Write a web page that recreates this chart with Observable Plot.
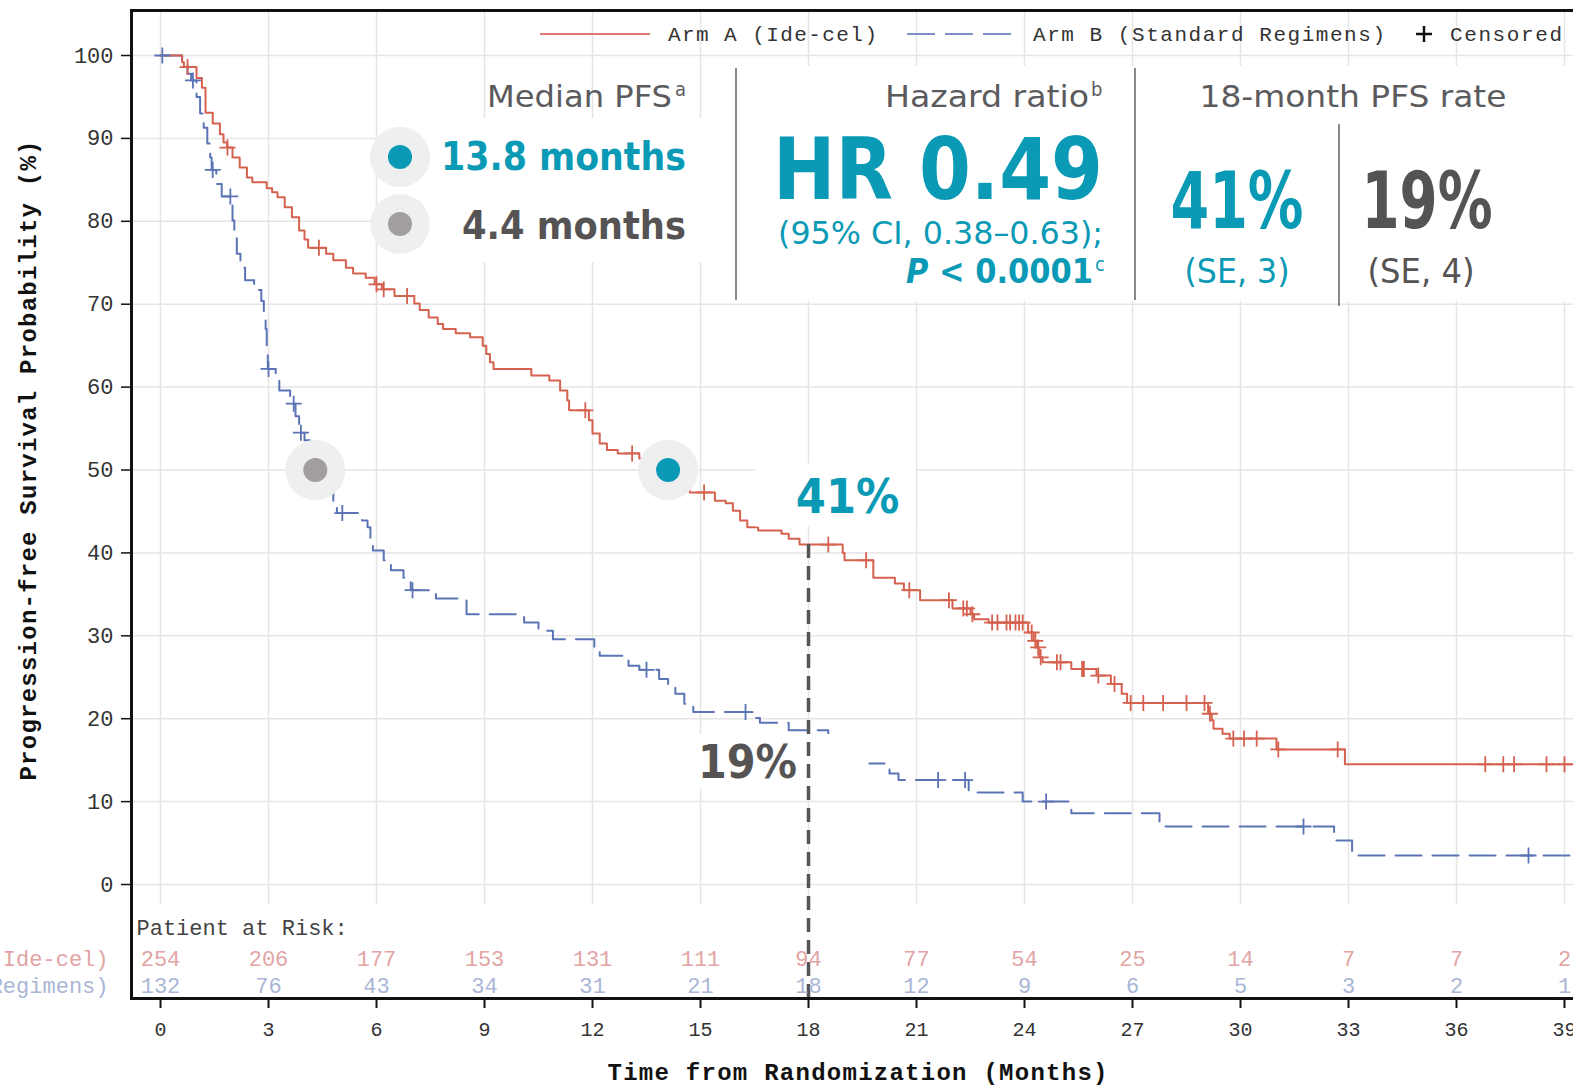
<!DOCTYPE html>
<html><head><meta charset="utf-8">
<script src="https://cdn.jsdelivr.net/npm/d3@7"></script>
<script src="https://cdn.jsdelivr.net/npm/@observablehq/plot@0.6"></script>
<style>
html,body{margin:0;padding:0;background:#fff;overflow:hidden;}
#wrap{position:relative;width:1600px;height:1087px;overflow:hidden;}
#wrap > svg{position:absolute;left:0;top:0;}
#overlay{pointer-events:none;}
</style></head><body><div id="wrap"></div>
<script>
// ---------------- data ----------------
const riskMonths = [0,3,6,9,12,15,18,21,24,27,30,33,36,39];
const riskArmA = [254,206,177,153,131,111,94,77,54,25,14,7,7,2];
const riskArmB = [132,76,43,34,31,21,18,12,9,6,5,3,2,1];

const armATime = [0,0.6,0.65,1.0,1.15,1.25,1.45,1.65,1.75,1.85,2.0,2.2,2.4,2.55,2.95,3.1,3.25,3.45,3.65,3.85,4.0,4.1,4.6,4.8,5.15,5.35,5.7,5.95,6.15,6.5,7.05,7.2,7.45,7.7,7.85,8.2,8.6,8.95,9.05,9.15,9.25,10.3,10.8,11.1,11.3,11.35,11.9,12.0,12.2,12.4,12.7,13.3,13.6,13.8,14.1,14.4,14.7,15.4,15.7,15.9,16.1,16.3,16.6,17.25,17.45,17.75,18.95,19.0,19.8,20.4,20.65,21.1,22.0,22.5,22.6,23.0,24.1,24.25,24.35,24.4,24.5,25.3,26.0,26.4,26.7,26.85,29.1,29.2,29.25,29.5,29.7,31.0,32.9,40];
const armASurv = [100,99.2,98.6,97.3,96.1,93.1,91.8,90.5,89.5,88.9,87.7,86.5,85.3,84.7,84.0,83.5,82.9,81.7,80.5,78.9,77.8,76.8,76.1,75.3,74.4,73.7,73.2,72.4,71.8,71.0,70.1,69.3,68.4,67.6,67.0,66.5,66.0,65.0,64.0,63.0,62.2,61.4,60.8,59.6,58.4,57.2,56.0,54.4,53.2,52.4,52.0,51.4,50.6,49.8,49.0,48.2,47.3,46.3,46.0,45.1,43.9,43.1,42.7,42.3,41.7,41.0,40.0,39.1,37.0,36.3,35.5,34.3,33.3,32.6,32.0,31.6,30.4,29.4,28.6,27.4,26.8,26.0,25.2,24.2,23.0,21.9,20.6,19.8,18.8,18.2,17.6,16.3,14.5,14.5];
const armACensorTime = [0.75,1.86,4.4,6.0,6.2,6.85,11.8,13.1,15.1,18.55,19.6,20.8,21.9,22.3,22.4,22.55,23.1,23.25,23.5,23.6,23.75,23.85,23.95,24.2,24.3,24.38,24.45,24.9,25.0,25.6,25.65,26.05,26.5,26.95,27.3,27.85,28.5,29.0,29.15,29.8,30.1,30.45,31.05,32.7,36.8,37.3,37.6,38.5,39.0];

const armBTime = [0,0.6,0.75,0.85,1.0,1.1,1.2,1.3,1.38,1.42,1.55,1.7,2.0,2.05,2.12,2.22,2.35,2.6,2.8,2.87,2.92,2.95,2.98,3.2,3.3,3.6,3.75,3.85,4.0,4.15,4.3,4.45,4.6,4.8,4.9,5.6,5.75,5.83,5.9,6.2,6.4,6.75,6.95,7.65,8.5,10.1,10.5,10.9,12.05,12.2,13.0,13.3,13.85,14.1,14.3,14.55,14.8,16.45,16.65,17.45,18.55,19.0,19.55,20.25,20.5,22.45,23.95,25.3,27.75,32.6,33.1,40];
const armBSurv = [100,99.0,97.8,97.0,95.0,93.0,91.3,89.4,87.7,86.2,84.5,83.0,80.1,78.5,76.1,74.4,72.9,71.7,70.4,68.9,67.0,64.4,62.2,61.2,59.6,58.0,56.5,54.5,53.6,52.0,50.0,49.0,47.5,46.3,44.8,43.9,43.1,41.5,40.3,39.1,37.9,37.0,35.5,34.5,32.6,31.6,30.6,29.6,28.6,27.6,26.4,25.9,24.8,24.0,23.0,21.8,20.8,20.1,19.5,18.6,17.5,16.0,14.6,13.4,12.6,11.1,10.0,8.6,7.0,5.3,3.5,3.5];
const armBCensorTime = [0.05,0.9,1.45,1.94,3.0,3.7,3.9,5.05,7.0,13.5,16.25,21.6,22.35,24.6,31.75,38.0];

const medianTimes = [14.1, 4.3];      // plotted positions of the median markers (Arm A, Arm B)
const landmarkMonth = 18;
const landmarkRates = [41, 19];        // Arm A, Arm B
const yTicks = [0,10,20,30,40,50,60,70,80,90,100];
const xTicks = [0,3,6,9,12,15,18,21,24,27,30,33,36,39];
const yTitle = "Progression-free Survival Probability (%)";
const xTitle = "Time from Randomization (Months)";

// ---------------- style ----------------
const teal = "#0a9ab5", darkGrey = "#555354", titleGrey = "#5b5b5d";
const red = "#d5614f", blue = "#5b74b6";
const pink = "#e2a4a4", paleBlue = "#a9b6d6";
const gridC = "#e5e5e5";
const mono = '"Liberation Mono","DejaVu Sans Mono",monospace';
const cond = '"DejaVu Sans Condensed","DejaVu Sans",sans-serif';

const xMin = -0.806, xMax = 40, yMin = -13.75, yMax = 105.43, gridBottom = -2.5;

const survAt = (times, surv, t) => { let v = surv[0]; for (let i = 0; i < times.length; i++) { if (times[i] <= t) v = surv[i]; else break; } return v; };
const armA = armATime.map((t, i) => ({t, s: armASurv[i]}));
const armB = armBTime.map((t, i) => ({t, s: armBSurv[i]}));
const censA = armACensorTime.map(t => ({t, s: survAt(armATime, armASurv, t)}));
const censB = armBCensorTime.map(t => ({t, s: survAt(armBTime, armBSurv, t)}));
const medA = [{t: medianTimes[0], s: 50}], medB = [{t: medianTimes[1], s: 50}];
const lmA = [{t: landmarkMonth, s: landmarkRates[0], label: landmarkRates[0] + "%"}];
const lmB = [{t: landmarkMonth, s: landmarkRates[1], label: landmarkRates[1] + "%"}];
const riskA = riskMonths.map((t, i) => ({t, n: riskArmA[i]}));
const riskB = riskMonths.map((t, i) => ({t, n: riskArmB[i]}));

const plusSym = {draw(ctx, size) { const r = Math.sqrt(size / Math.PI); ctx.moveTo(-r, 0); ctx.lineTo(r, 0); ctx.moveTo(0, -r); ctx.lineTo(0, r); }};
const boxSym = (x0, y0, w, h) => ({draw(ctx) { ctx.rect(x0, y0, w, h); }});

const chart = Plot.plot({
  width: 1600, height: 1087,
  marginLeft: 131, marginRight: 0, marginTop: 10, marginBottom: 89,
  x: {domain: [xMin, xMax]},
  y: {domain: [yMin, yMax]},
  style: {fontFamily: mono, fontSize: "22px", background: "white", maxWidth: "none", color: "#222"},
  marks: [
    Plot.ruleY(yTicks, {stroke: gridC, strokeWidth: 1.5}),
    Plot.ruleX(xTicks, {y1: gridBottom, y2: yMax, stroke: gridC, strokeWidth: 1.5}),
    Plot.line(armB, {x: "t", y: "s", curve: "step-after", stroke: blue, strokeWidth: 2, strokeDasharray: "26,11"}),
    Plot.line(armA, {x: "t", y: "s", curve: "step-after", stroke: red, strokeWidth: 2}),
    Plot.dot(censB, {x: "t", y: "s", symbol: plusSym, r: 8, stroke: blue, fill: "none", strokeWidth: 1.8}),
    Plot.dot(censA, {x: "t", y: "s", symbol: plusSym, r: 8, stroke: red, fill: "none", strokeWidth: 1.8}),
    Plot.dot(medA, {x: "t", y: "s", r: 30, fill: "#efefef"}),
    Plot.dot(medB, {x: "t", y: "s", r: 30, fill: "#efefef"}),
    Plot.dot(medA, {x: "t", y: "s", r: 12, fill: teal}),
    Plot.dot(medB, {x: "t", y: "s", r: 12, fill: "#a39e9e"}),
    Plot.dot(lmA, {x: "t", y: "s", symbol: boxSym(-53, -81, 160, 63), fill: "white", r: 1}),
    Plot.dot(lmB, {x: "t", y: "s", symbol: boxSym(-110, 7, 170, 55), fill: "white", r: 1}),
    Plot.ruleX([landmarkMonth], {x: d => d, y1: landmarkRates[0], y2: yMin, stroke: "#555", strokeWidth: 3.5, strokeDasharray: "14,8"}),
    Plot.text(lmA, {x: "t", y: "s", text: "label", dx: 39, dy: -47, fill: teal, fontWeight: "bold", fontSize: 48, fontFamily: cond}),
    Plot.text(lmB, {x: "t", y: "s", text: "label", dx: -61, dy: 36, fill: darkGrey, fontWeight: "bold", fontSize: 46, fontFamily: cond}),
    Plot.text(["Patient at Risk:"], {text: d => d, frameAnchor: "bottom-left", lineAnchor: "middle", dx: 5, dy: -71, textAnchor: "start", fill: "#444"}),
    Plot.text(riskA, {x: "t", text: d => String(d.n), frameAnchor: "bottom", lineAnchor: "middle", dy: -40, fill: pink}),
    Plot.text(riskB, {x: "t", text: d => String(d.n), frameAnchor: "bottom", lineAnchor: "middle", dy: -13, fill: paleBlue}),
    Plot.text(["Arm A (Ide-cel)"], {text: d => d, frameAnchor: "bottom-left", lineAnchor: "middle", dx: -23, dy: -40, textAnchor: "end", fill: pink}),
    Plot.text(["Arm B (Standard Regimens)"], {text: d => d, frameAnchor: "bottom-left", lineAnchor: "middle", dx: -23, dy: -13, textAnchor: "end", fill: paleBlue}),
    Plot.axisY(yTicks, {tickSize: 10, tickPadding: 8, label: null, fontSize: 22, stroke: "#111", strokeWidth: 1.5, fill: "#333"}),
    Plot.axisX(xTicks, {tickSize: 10, tickPadding: 13, label: null, fontSize: 20, stroke: "#111", strokeWidth: 2, fill: "#333"}),
    Plot.text([yTitle], {text: d => d, frameAnchor: "left", lineAnchor: "middle", dx: -103, dy: 276, rotate: -90, textAnchor: "start", fontWeight: "bold", fontSize: 24, fill: "#111"}),
    Plot.text([xTitle], {text: d => d, frameAnchor: "bottom-left", lineAnchor: "middle", dx: 476, dy: 74, textAnchor: "start", fontWeight: "bold", fontSize: 24, fill: "#111"}),
    Plot.frame({stroke: "#111", strokeWidth: 3})
  ]
});
document.getElementById("wrap").appendChild(chart);

const sv = d3.select(chart);
const byText = s => sv.selectAll("text").filter(function() { return this.textContent === s; });
byText(yTitle).attr("textLength", 640).attr("lengthAdjust", "spacing");
byText(xTitle).attr("textLength", 500).attr("lengthAdjust", "spacing");
byText("41%").style("font-stretch", "condensed");
byText("19%").style("font-stretch", "condensed");

// ---------------- overlay: legend + summary panel ----------------
const ov = d3.select("#wrap").append("svg").attr("id", "overlay")
  .attr("width", 1573).attr("height", 1087)
  .style("position", "absolute").style("left", 0).style("top", 0);

function txt(str, x, y, o = {}) {
  const t = ov.append("text").attr("x", x).attr("y", y)
    .attr("font-family", o.family || cond)
    .style("font-stretch", o.family ? "normal" : "condensed")
    .attr("font-size", o.size || 30)
    .attr("font-weight", o.weight || "normal")
    .attr("fill", o.fill || titleGrey)
    .attr("text-anchor", o.anchor || "start")
    .text(str);
  if (o.len) t.attr("textLength", o.len).attr("lengthAdjust", o.adjust || "spacingAndGlyphs");
  return t;
}

// legend
ov.append("line").attr("x1", 540).attr("x2", 650).attr("y1", 34).attr("y2", 34).attr("stroke", "#df7a70").attr("stroke-width", 2);
txt("Arm A (Ide-cel)", 668, 41, {family: mono, size: 21, fill: "#333", len: 209, adjust: "spacing"});
ov.append("line").attr("x1", 907).attr("x2", 1020).attr("y1", 34).attr("y2", 34).attr("stroke", "#7d8fcb").attr("stroke-width", 2).attr("stroke-dasharray", "28,10");
txt("Arm B (Standard Regimens)", 1033, 41, {family: mono, size: 21, fill: "#333", len: 352, adjust: "spacing"});
ov.append("path").attr("d", "M1416,34H1432M1424,26V42").attr("stroke", "#111").attr("stroke-width", 2.5);
txt("Censored", 1450, 41, {family: mono, size: 21, fill: "#333", len: 112, adjust: "spacing"});

// panel backgrounds
ov.append("rect").attr("x", 380).attr("y", 118).attr("width", 356).attr("height", 144).attr("fill", "white");
ov.append("rect").attr("x", 737).attr("y", 66).attr("width", 840).attr("height", 235).attr("fill", "white");
// dividers
ov.append("line").attr("x1", 736).attr("x2", 736).attr("y1", 68).attr("y2", 300).attr("stroke", "#8a8a8a").attr("stroke-width", 2);
ov.append("line").attr("x1", 1135).attr("x2", 1135).attr("y1", 68).attr("y2", 300).attr("stroke", "#8a8a8a").attr("stroke-width", 2);
ov.append("line").attr("x1", 1339).attr("x2", 1339).attr("y1", 124).attr("y2", 306).attr("stroke", "#8a8a8a").attr("stroke-width", 2);

// Median PFS
txt("Median PFS", 672, 107, {size: 31, anchor: "end", len: 185});
txt("a", 675, 96, {size: 20});
ov.append("circle").attr("cx", 400).attr("cy", 157).attr("r", 30).attr("fill", "#efefef");
ov.append("circle").attr("cx", 400).attr("cy", 157).attr("r", 12).attr("fill", teal);
ov.append("circle").attr("cx", 400).attr("cy", 224).attr("r", 30).attr("fill", "#efefef");
ov.append("circle").attr("cx", 400).attr("cy", 224).attr("r", 12).attr("fill", "#a39e9e");
txt("13.8 months", 686, 170, {size: 39, weight: "bold", fill: teal, anchor: "end", len: 245});
txt("4.4 months", 686, 239, {size: 39, weight: "bold", fill: darkGrey, anchor: "end", len: 224});

// Hazard ratio
txt("Hazard ratio", 1089, 107, {size: 31, anchor: "end", len: 204});
txt("b", 1091, 96, {size: 20});
txt("HR 0.49", 1103, 199, {size: 85, weight: "bold", fill: teal, anchor: "end", len: 330});
txt("(95% CI, 0.38–0.63);", 1103, 244, {size: 32, fill: teal, anchor: "end", len: 325});
const p = txt("", 1093, 283, {size: 33, weight: "bold", fill: teal, anchor: "end", len: 187});
p.append("tspan").attr("font-style", "italic").text("P");
p.append("tspan").text(" < 0.0001");
txt("c", 1095, 271, {size: 20, fill: teal});

// 18-month PFS rate
txt("18-month PFS rate", 1353, 107, {size: 31, anchor: "middle", len: 307});
txt("41%", 1237, 228, {size: 78, weight: "bold", fill: teal, anchor: "middle", len: 133});
txt("(SE, 3)", 1237, 283, {size: 33, fill: teal, anchor: "middle", len: 105});
txt("19%", 1427, 228, {size: 78, weight: "bold", fill: darkGrey, anchor: "middle", len: 131});
txt("(SE, 4)", 1421, 283, {size: 33, fill: darkGrey, anchor: "middle", len: 107});
</script></body></html>
